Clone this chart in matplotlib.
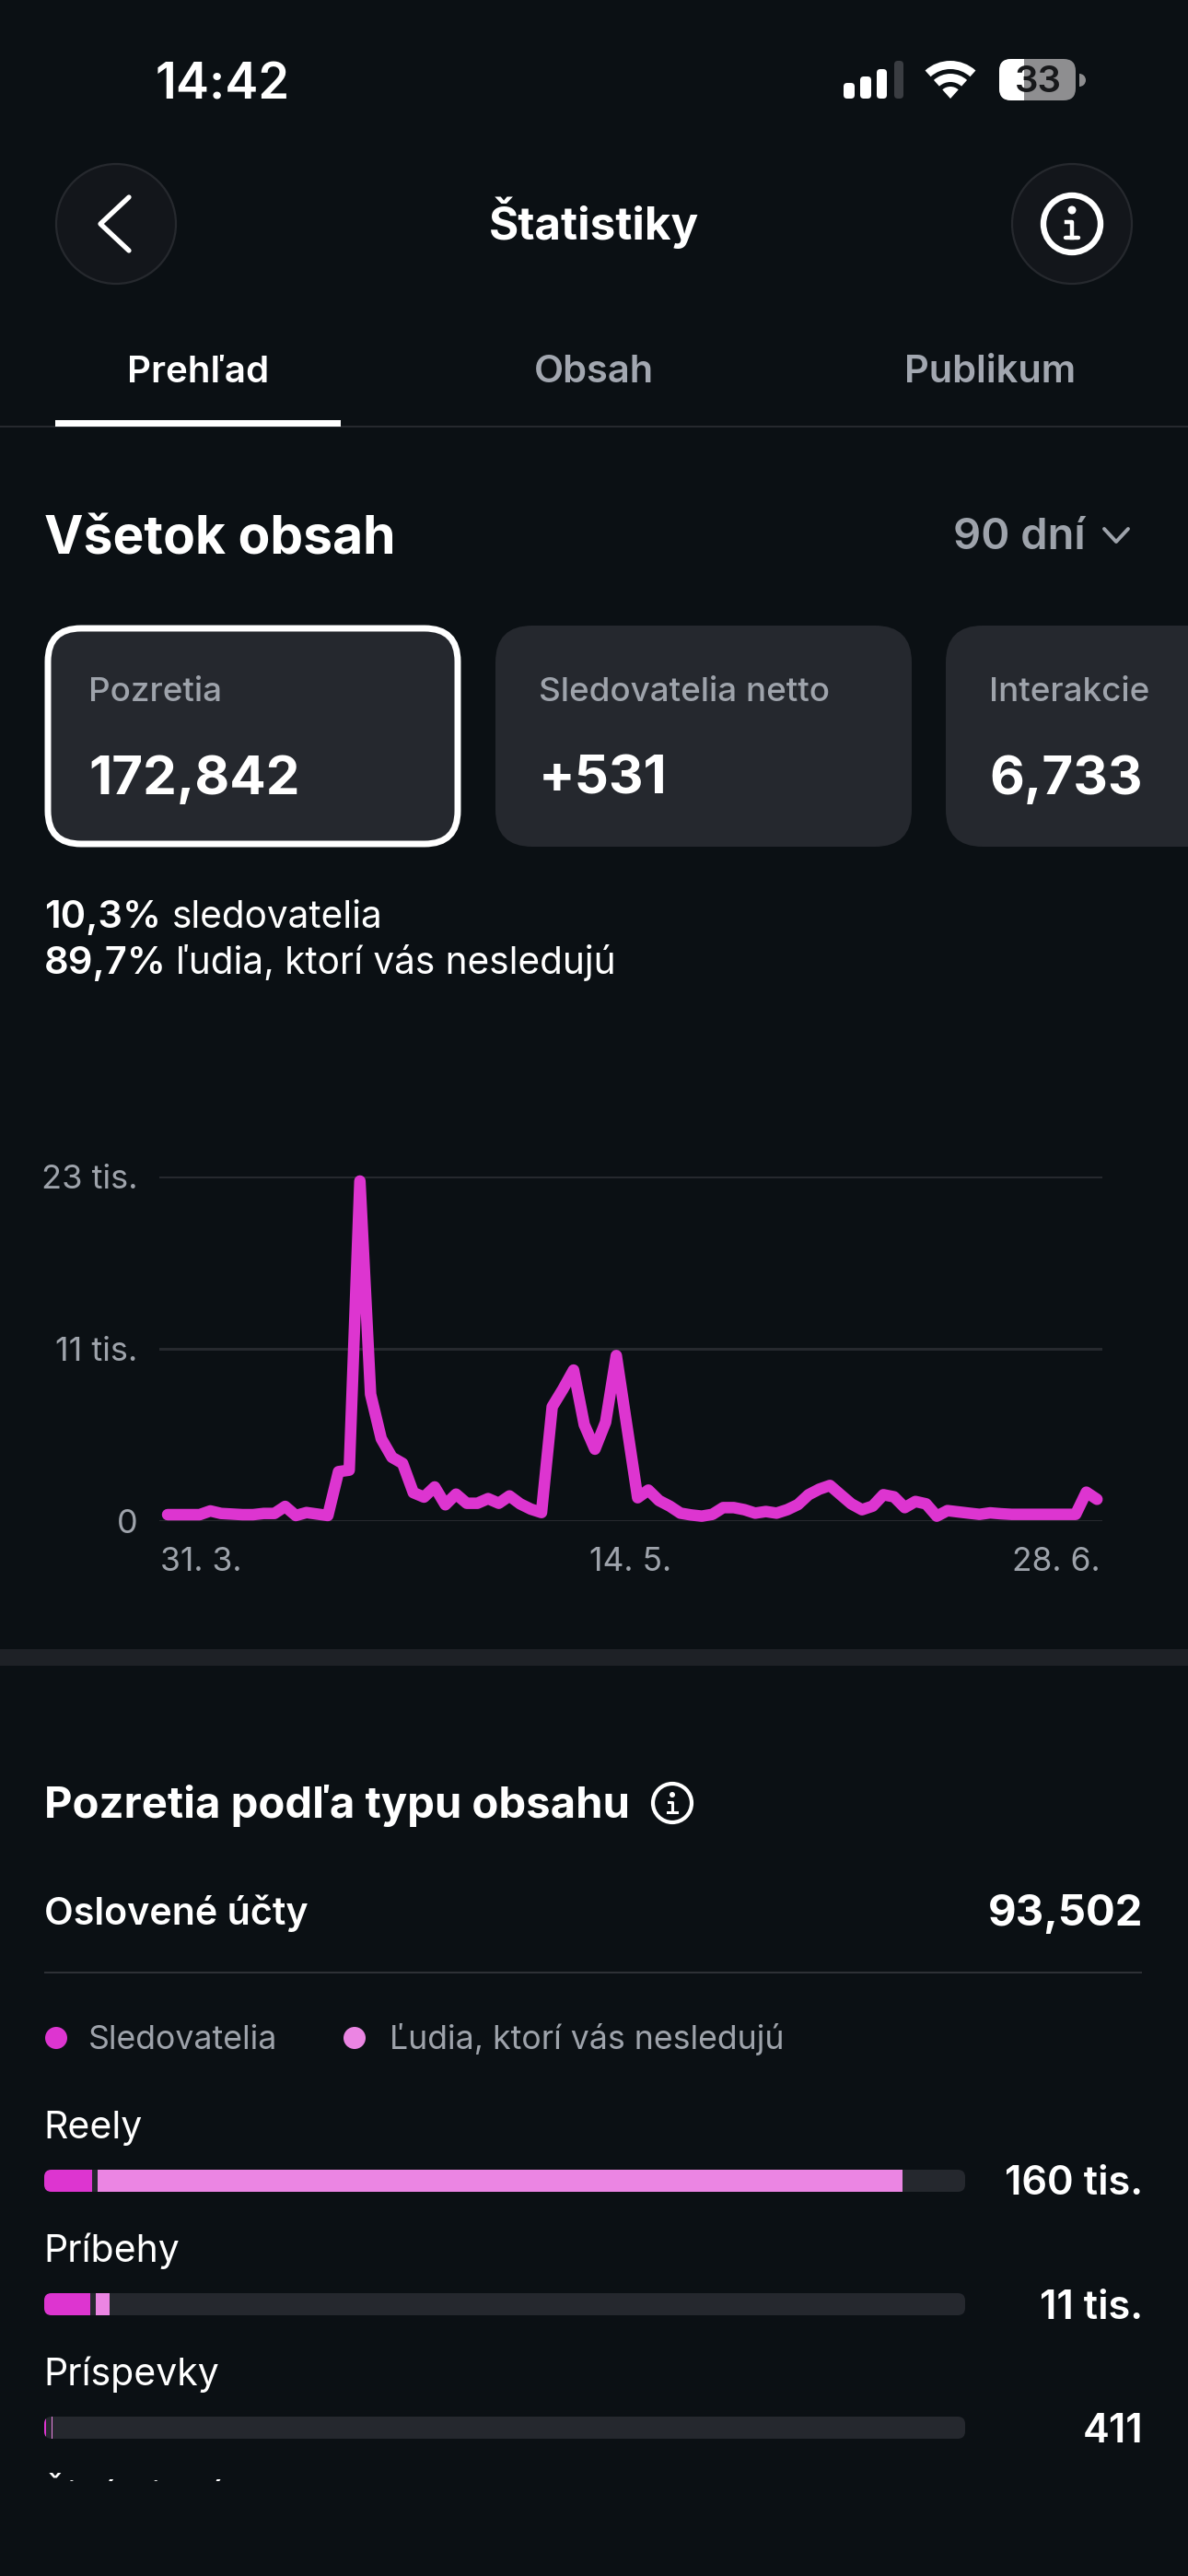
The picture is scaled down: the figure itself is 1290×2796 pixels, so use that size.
import matplotlib
matplotlib.use('Agg')
import matplotlib.pyplot as plt
from matplotlib.patches import Circle, FancyBboxPatch, Rectangle, Wedge

plt.rcParams['font.family'] = ['Inter', 'DejaVu Sans']

# daily views
views = [430, 430, 430, 430, 680, 510, 470, 430, 430, 510, 510, 980, 370, 570, 470, 370,
         3300, 3400, 22700, 8470, 5500, 4260, 3850, 1900, 1600, 2280, 1090, 1800, 1190, 1190,
         1500, 1190, 1680, 1150, 800, 570, 7630, 8800, 10080, 6440, 4800, 6600, 11050, 6300,
         1560, 2070, 1370, 1000, 530, 410, 330, 450, 900, 900, 760, 530, 640, 530, 760, 1100,
         1760, 2130, 2380, 1760, 1150, 760, 1000, 1760, 1620, 900, 1310, 1150, 330, 700, 615,
         530, 450, 550, 490, 450, 450, 450, 450, 450, 450, 450, 1930, 1455]
y_ticks = [0, 11500, 23000]
y_labels = ['0', '11 tis.', '23 tis.']
x_ticks = [-0.7, 43.3, 87.3]
x_labels = ['31. 3.', '14. 5.', '28. 6.']

content_types = ['Reely', 'Príbehy', 'Príspevky']
content_totals = ['160 tis.', '11 tis.', '411']
followers = [8.9, 8.6, 0.35]       # thousands
non_followers = [150.1, 2.6, 0.2]  # thousands

cards = ['Pozretia', 'Sledovatelia netto', 'Interakcie']
card_values = ['172,842', '+531', '6,733']

BG = '#0B1014'
CARD = '#25282E'
GRID = '#26292E'
GREY = '#9EA3AB'
PINK = '#DD35D0'
LIGHT_PINK = '#EB85E3'
W, H = 1290, 2796


def px_axes(fig, left, top, right, bottom):
    return fig.add_axes([left / W, 1 - bottom / H, (right - left) / W, (bottom - top) / H])


def txt(ax, x, y, s, size, color='white', weight='normal', ha='left', **kw):
    return ax.text(x, y, s, fontsize=size, color=color, fontweight=weight, ha=ha, va='baseline', **kw)


def box(ax, x0, y0, x1, y1, r, **kw):
    p = FancyBboxPatch((x0 + r, y0 + r), x1 - x0 - 2 * r, y1 - y0 - 2 * r,
                       boxstyle=f'round,pad={r},rounding_size={r}', **kw)
    ax.add_patch(p)
    return p


fig = plt.figure(figsize=(W / 100, H / 100), dpi=100, facecolor=BG)
ui = fig.add_axes([0, 0, 1, 1])
ui.set_xlim(0, W)
ui.set_ylim(H, 0)
ui.axis('off')

# status bar
txt(ui, 242, 107, '14:42', 39, weight='semibold', ha='center')
for x0, x1, top, col in [(916, 928, 90, 'white'), (934, 946, 83, 'white'),
                         (952, 963, 75, 'white'), (971, 981, 66, '#3A3D42')]:
    box(ui, x0, top, x1, 107, 4, fc=col, ec='none')
for r, wd in [(41, 9), (27, 9), (13, 13)]:
    ui.add_patch(Wedge((1032, 107), r, 228, 312, width=wd, fc='white', ec='none'))
batt = box(ui, 1085, 64, 1168, 109, 13, fc='#8E8E90', ec='none')
fill = Rectangle((1085, 64), 27, 45, fc='white', ec='none')
ui.add_patch(fill)
fill.set_clip_path(batt)
ui.add_patch(Wedge((1172, 87), 7, 270, 90, fc='#8E8E90', ec='none'))
txt(ui, 1127, 100, '33', 29, color='#17181A', weight='semibold', ha='center')

# nav bar
for cx in (126, 1164):
    ui.add_patch(Circle((cx, 243), 65, fc='#13161B', ec=GRID, lw=1.6))
ui.plot([140, 109, 140], [214, 243, 272], color='white', lw=3.8, solid_capstyle='round', solid_joinstyle='round')
ui.add_patch(Circle((1164, 243), 31, fc='none', ec='white', lw=4.6))
ui.add_patch(Circle((1164, 228), 4.5, fc='white', ec='none'))
ui.plot([1158, 1164, 1164], [241, 241, 258], color='white', lw=3.2)
ui.plot([1157, 1171], [258, 258], color='white', lw=3.2, solid_capstyle='round')
txt(ui, 645, 260, 'Štatistiky', 35.5, weight='bold', ha='center')

# tabs
txt(ui, 215, 415, 'Prehľad', 29, weight='semibold', ha='center')
txt(ui, 645, 415, 'Obsah', 30, color='#A2A7B0', weight='semibold', ha='center')
txt(ui, 1075, 415, 'Publikum', 30, color='#A2A7B0', weight='semibold', ha='center')
ui.add_patch(Rectangle((0, 462), W, 2, fc=GRID, ec='none'))
ui.add_patch(Rectangle((60, 456), 310, 7, fc='white', ec='none'))

# header
txt(ui, 48, 601, 'Všetok obsah', 41, weight='bold')
txt(ui, 1035, 596, '90 dní', 34, color=GREY, weight='semibold')
ui.plot([1199, 1212, 1225], [574, 588, 574], color=GREY, lw=2.8, solid_capstyle='round', solid_joinstyle='round')

# metric cards
card_x = [(52, 497), (538, 990), (1027, 1400)]
text_x = [96, 585, 1074]
for i in range(3):
    x0, x1 = card_x[i]
    if i == 0:
        box(ui, x0, 682, x1, 916, 36, fc=CARD, ec='white', lw=5)
    else:
        box(ui, x0, 679, x1, 919, 40, fc=CARD, ec='none')
    txt(ui, text_x[i], 761, cards[i], 26.5, color=GREY, weight='medium')
    txt(ui, text_x[i], 862, card_values[i], 42, weight='bold')

txt(ui, 48, 1007, '10,3%', 30, weight='semibold')
txt(ui, 187, 1007, 'sledovatelia', 29.2)
txt(ui, 48, 1057, '89,7%', 30, weight='semibold')
txt(ui, 191, 1057, 'ľudia, ktorí vás nesledujú', 29.2)

# line chart
ax = px_axes(fig, 173, 1277, 1197, 1651)
ax.patch.set_alpha(0)
ax.plot(range(len(views)), views, color=PINK, lw=9, clip_on=False,
        solid_joinstyle='round', solid_capstyle='round', zorder=3)
ax.set_xlim(-0.776, 87.5)
ax.set_ylim(0, 23000)
ax.set_yticks(y_ticks, y_labels, color=GREY, fontsize=26)
ax.set_xticks(x_ticks, x_labels, color=GREY, fontsize=25.5)
for lab, ha in zip(ax.get_xticklabels(), ['left', 'center', 'right']):
    lab.set_ha(ha)
ax.tick_params(length=0)
ax.tick_params(axis='y', pad=17)
ax.tick_params(axis='x', pad=20)
ax.grid(axis='y', color=GRID, lw=2.2)
ax.set_axisbelow(True)
for s in ax.spines.values():
    s.set_visible(False)

# lower section
ui.add_patch(Rectangle((0, 1790), W, 18, fc='#1E2126', ec='none'))
txt(ui, 48, 1973, 'Pozretia podľa typu obsahu', 34, weight='bold')
ui.add_patch(Circle((730, 1957), 21, fc='none', ec='white', lw=3))
ui.add_patch(Circle((730, 1948), 3, fc='white', ec='none'))
ui.plot([726, 730, 730], [1956, 1956, 1967], color='white', lw=2.2)
ui.plot([725, 735], [1967, 1967], color='white', lw=2.2)
txt(ui, 48, 2089, 'Oslovené účty', 29.7, weight='semibold')
txt(ui, 1241, 2090, '93,502', 34, weight='bold', ha='right')
ui.add_patch(Rectangle((48, 2140), 1192, 2, fc='#2E3136', ec='none'))
ui.add_patch(Circle((61, 2212), 12, fc=PINK, ec='none'))
txt(ui, 96, 2224, 'Sledovatelia', 25.7, color=GREY)
ui.add_patch(Circle((385, 2212), 12, fc=LIGHT_PINK, ec='none'))
txt(ui, 423, 2224, 'Ľudia, ktorí vás nesledujú', 25.7, color=GREY)

# stacked bars, 134 px per row
label_y = [2321, 2455, 2589]
value_y = [2382, 2517, 2651]
tracks = []
for top in (2355, 2489, 2623):
    tracks.append(box(ui, 48, top, 1048, top + 24, 8, fc=CARD, ec='none'))
for i in range(3):
    txt(ui, 47, label_y[i], content_types[i], 29.5)
    txt(ui, 1241, value_y[i], content_totals[i], 31.3, weight='semibold', ha='right')

bars = px_axes(fig, 48, 2300, 1048, 2702)
bars.patch.set_alpha(0)
bars.axis('off')
bars.set_xlim(0, 171.7)
bars.set_ylim(2.5, -0.5)
gap = 1.0
row = range(3)
b1 = bars.barh(row, followers, height=24 / 134, color=PINK)
b2 = bars.barh(row, non_followers, height=24 / 134, left=[f + gap for f in followers], color=LIGHT_PINK)
for i in row:
    b1[i].set_clip_path(tracks[i])
    b2[i].set_clip_path(tracks[i])

# next row is cut off by the scroll area
cut = txt(ui, 47, 2723, 'Živé videá', 29.5)
cut.set_clip_on(True)
cut.set_clip_path(Rectangle((0, 2600), W, 93, transform=ui.transData))

fig.savefig('out.png', dpi=100, facecolor=BG)
